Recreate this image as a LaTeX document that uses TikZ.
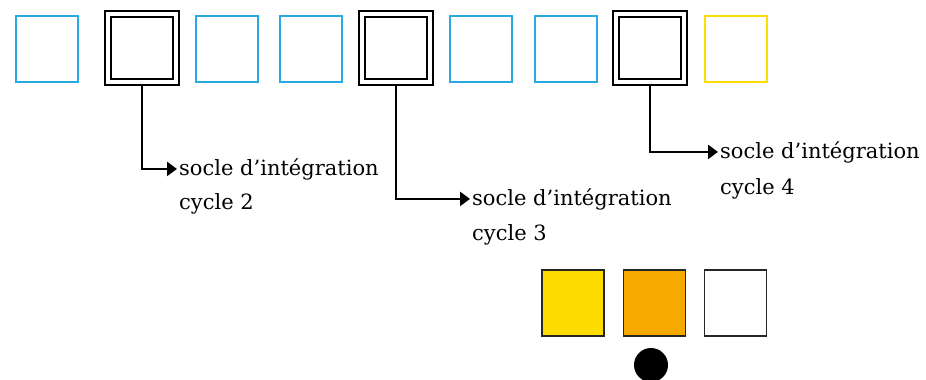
\documentclass[tikz,border=0pt]{standalone}
\usepackage{fontspec}
\setmainfont{DejaVu Serif}
\usetikzlibrary{arrows.meta}
\definecolor{cyanblue}{HTML}{29AAE1}
\definecolor{lemon}{HTML}{FFDC00}
\definecolor{amber}{HTML}{F6AA00}
\tikzstyle{cell} = [draw=cyanblue, line width=2pt, minimum width=62pt,
minimum height=66pt, inner sep=0pt]
\tikzstyle{socle} = [draw=black, line width=2.2pt, double=white,
double distance=3.8pt, minimum width=68pt, minimum height=68pt, inner sep=0pt]
\tikzstyle{swatch} = [draw=black!85, line width=1.8pt, minimum width=62pt,
minimum height=66pt, inner sep=0pt]
\tikzstyle{lbl} = [anchor=base west, inner xsep=2pt, inner ysep=0pt,
font=\fontsize{21}{25}\selectfont]
\tikzstyle{link} = [-{Triangle[length=10pt,width=14pt]}, line width=2.6pt]

\begin{document}
\begin{tikzpicture}[x=1pt, y=-1pt]
                    \useasboundingbox (0,0) rectangle (926,380);
                    \node[cell] (b1) at (47,49) {};
                    \node[socle] (d2) at (142,48) {};
                    \node[cell] (b3) at (226.5,49) {};
                    \node[cell] (b4) at (311,49) {};
                    \node[socle] (d3) at (396,48) {};
                    \node[cell] (b6) at (481,49) {};
                    \node[cell] (b7) at (566,49) {};
                    \node[socle] (d4) at (650,48) {};
                    \node[cell, draw=lemon] (b9) at (736,49) {};
                    \node[lbl] (s2) at (177,175) {socle d’intégration};
                    \node[lbl] (c2) at (177,209) {cycle 2};
                    \node[lbl] (s3) at (470,205) {socle d’intégration};
                    \node[lbl] (c3) at (470,240) {cycle 3};
                    \node[lbl] (s4) at (718,158) {socle d’intégration};
                    \node[lbl] (c4) at (718,194) {cycle 4};
                    \draw[link] ([yshift=-3pt]d2.south) |- (s2.west);
                    \draw[link] ([yshift=-3pt]d3.south) |- (s3.west);
                    \draw[link] ([yshift=-3pt]d4.south) |- (s4.west);
                    \node[swatch, fill=lemon] (y1) at (573,303) {};
                    \node[swatch, fill=amber] (o1) at (654.5,303) {};
                    \node[swatch, fill=white] (w1) at (735.5,303) {};
                    \node[circle, fill=black, minimum size=34pt, inner sep=0pt] (dot) at (651,365) {};
                \end{tikzpicture}
\end{document}
